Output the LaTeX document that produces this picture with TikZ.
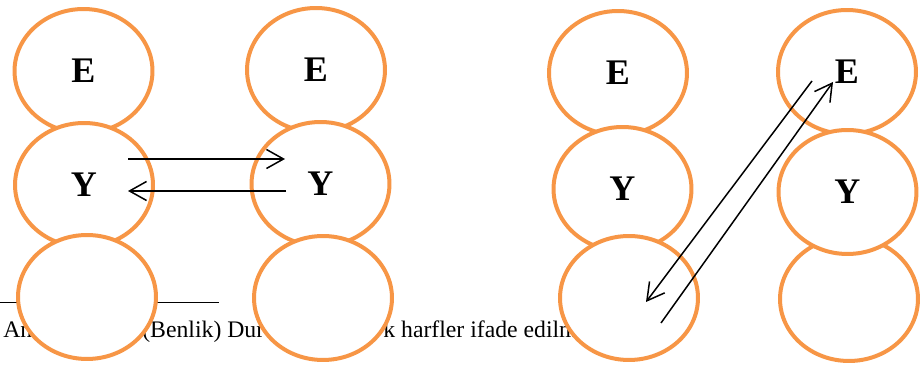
\documentclass[tikz,border=0pt]{standalone}
\usepackage{fontspec}
\setmainfont{Liberation Serif}
\usetikzlibrary{shapes.geometric,arrows.meta}
\definecolor{egoline}{RGB}{247,150,70}

\begin{document}
\begin{tikzpicture}[
    x=0.02cm, y=-0.02cm,
    ego/.style={ellipse, draw=egoline, line width=0.08cm, fill=white, inner sep=0pt, minimum width=2.76cm, minimum height=2.48cm, font=\fontsize{20.5}{24}\selectfont\bfseries},
    note/.style={anchor=base west, inner sep=0pt, font=\fontsize{13.5}{16}\selectfont},
    flow/.style={-{Straight Barb[length=0.34cm, width=0.38cm]}, line width=0.03cm},
]
    \useasboundingbox (0,0) rectangle (921,367);

    \draw[line width=0.035cm] (0,302.5) -- (219,302.5);
    \node[note] (txt1) at (3,338) {An};
    \node[note] (txt2) at (142,338) {(Benlik) Dur};
    \node[note] (txt3) at (383,338) {k harfler ifade edilm};

    \node[ego] (e1) at (83.5,71) {E};
    \node[ego] (y1) at (84,185) {Y};
    \node[ego] (b1) at (87,297) {};

    \node[ego] (e2) at (316,70) {E};
    \node[ego] (y2) at (320.5,184) {Y};
    \node[ego] (b2) at (323,298) {};

    \node[ego] (e3) at (618,73) {E};
    \node[ego] (y3) at (622.5,189) {Y};
    \node[ego] (b3) at (629,298) {};

    \node[ego] (e4) at (847,72) {E};
    \node[ego] (b4) at (849,299) {};
    \node[ego] (y4) at (847.5,192) {Y};

    \coordinate (ya) at (128,159);
    \coordinate (yb) at (285,159);
    \coordinate (yc) at (286,191);
    \coordinate (yd) at (128,191);
    \draw[flow] (ya) -- (yb);
    \draw[flow] (yc) -- (yd);

    \coordinate (ea) at (812,81);
    \coordinate (eb) at (646,302);
    \coordinate (ec) at (661,323);
    \coordinate (ed) at (833,82);
    \draw[flow] (ea) -- (eb);
    \draw[flow] (ec) -- (ed);
\end{tikzpicture}
\end{document}
